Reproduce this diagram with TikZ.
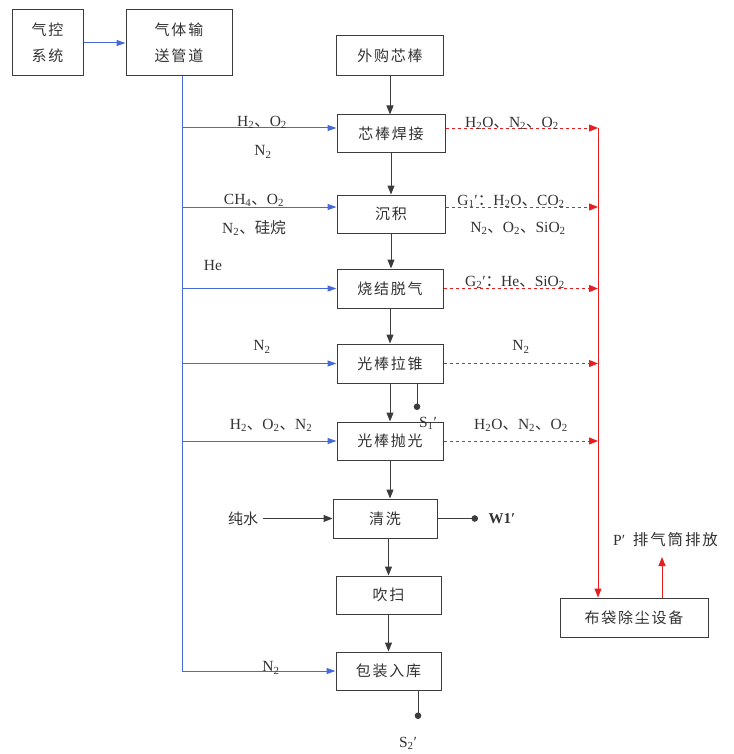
\documentclass[tikz,border=0pt]{standalone}
\usepackage{fontspec}
\setmainfont{Liberation Serif}
\newfontfamily\cjk[LetterSpace=12]{Noto Sans CJK SC}
\newfontfamily\cjkl{Noto Sans CJK SC}
\usetikzlibrary{arrows.meta}
\definecolor{boxc}{RGB}{60,60,60}
\definecolor{txt}{RGB}{50,50,50}
\definecolor{bluec}{RGB}{70,105,220}
\definecolor{redc}{RGB}{230,30,30}
\newcommand\dn{{\cjkl 、}}
\newcommand\cl{{\cjkl ：}}
\newcommand\chsub[1]{\textsubscript{#1}}
\begin{document}
\begin{tikzpicture}[x=1pt,y=-1pt,
  box/.style={draw=boxc, line width=1pt, inner sep=0pt, align=center,
    font=\cjk\fontsize{15}{26}\selectfont, text=txt},
  lab/.style={font=\fontsize{15.5}{17}\selectfont, text=txt, inner sep=0pt},
  blk/.style={draw=boxc, line width=1pt, -{Triangle[length=9pt,width=7pt]}},
  bln/.style={draw=bluec, line width=1pt},
  blu/.style={draw=bluec, line width=1pt, -{Triangle[length=9pt,width=6pt]}},
  rdash/.style={draw=redc, line width=0.9pt, dash pattern=on 3pt off 3pt, -{Triangle[length=9pt,width=7pt]}},
  rline/.style={draw=redc, line width=1pt, -{Triangle[length=9pt,width=7pt]}},
  dotend/.style={draw=boxc, line width=1pt, -{Circle[length=6.5pt]}}
]
\useasboundingbox (0,0) rectangle (733,754);
% boxes
\node[box, minimum width=71pt, minimum height=66pt] (qk) at (47.5,43) {气控\\系统};
\node[box, minimum width=106pt, minimum height=66pt] (gt) at (179,43) {气体输\\送管道};
\node[box, minimum width=107pt, minimum height=40pt] (wg) at (390,56) {外购芯棒};
\node[box, minimum width=108pt, minimum height=38pt] (hj) at (391,134) {芯棒焊接};
\node[box, minimum width=108pt, minimum height=38pt] (cj) at (391,214) {沉积};
\node[box, minimum width=106pt, minimum height=39pt] (sj) at (390,288.5) {烧结脱气};
\node[box, minimum width=106pt, minimum height=39pt] (lz) at (390,363.5) {光棒拉锥};
\node[box, minimum width=106pt, minimum height=38pt] (pg) at (390,441) {光棒抛光};
\node[box, minimum width=104pt, minimum height=39pt] (qx) at (385,518.5) {清洗};
\node[box, minimum width=105pt, minimum height=38pt] (cs) at (388.5,595) {吹扫};
\node[box, minimum width=105pt, minimum height=38pt] (bz) at (388.5,671) {包装入库};
\node[box, minimum width=148pt, minimum height=39pt] (bd) at (634,617.5) {布袋除尘设备};

% main flow
\draw[blk] (wg.south) -- (wg.south |- hj.north);
\draw[blk] (hj.south) -- (hj.south |- cj.north);
\draw[blk] (cj.south) -- (cj.south |- sj.north);
\draw[blk] (sj.south) -- (sj.south |- lz.north);
\draw[blk] (lz.south) -- (lz.south |- pg.north);
\draw[blk] (pg.south) -- (pg.south |- qx.north);
\draw[blk] (qx.south -| cs.center) -- (cs.north);
\draw[blk] (cs.south) -- (bz.north);

% gas control
\draw[blu] (qk.east) -- (qk.east -| gt.west);
\coordinate (trunk) at (182,76);
\coordinate (hjL) at ([yshift=6pt]hj.west);
\coordinate (cjL) at ([yshift=7pt]cj.west);
\coordinate (hjR) at ([yshift=6pt]hj.east);
\coordinate (cjR) at ([yshift=7pt]cj.east);
\draw[bln] (trunk) -- (trunk |- bz.west);
\draw[blu] (trunk |- hjL) -- (hjL);
\draw[blu] (trunk |- cjL) -- (cjL);
\draw[blu] (trunk |- sj.west) -- (sj.west);
\draw[blu] (trunk |- lz.west) -- (lz.west);
\draw[blu] (trunk |- pg.west) -- (pg.west);
\draw[blu] (trunk |- bz.west) -- (bz.west);

% red exhaust
\coordinate (rt) at (598,128);
\draw[rline] (rt) -- (rt |- bd.north);
\draw[rdash] (hjR) -- (hjR -| rt);
\draw[rdash] (cjR) -- (cjR -| rt);
\draw[rdash] (sj.east) -- (sj.east -| rt);
\draw[rdash] (lz.east) -- (lz.east -| rt);
\draw[rdash] (pg.east) -- (pg.east -| rt);
\coordinate (pt) at (662,557);
\draw[rline] (bd.north -| pt) -- (pt);

% left labels
\node[lab] (l1) at (262,122) {H\chsub{2}\dn O\chsub{2}};
\node[lab] (l2) at (263,152) {N\chsub{2}};
\node[lab] (l3) at (254,200) {CH\chsub{4}\dn O\chsub{2}};
\node[lab] (l4) at (254,228) {N\chsub{2}\dn{\cjkl 硅烷}};
\node[lab] (l5) at (213,265) {He};
\node[lab] (l6) at (262,347) {N\chsub{2}};
\node[lab] (l7) at (271,425) {H\chsub{2}\dn O\chsub{2}\dn N\chsub{2}};
\node[lab, font=\cjkl\fontsize{15}{16}\selectfont] (cw) at (243,518.5) {纯水};
\node[lab] (l8) at (271,668) {N\chsub{2}};
\draw[blk] ([xshift=5pt]cw.east) -- (qx.west);

% right labels
\node[lab] (r1) at (512,123) {H\chsub{2}O\dn N\chsub{2}\dn O\chsub{2}};
\node[lab] (r2) at (511,201) {G\chsub{1}′\cl H\chsub{2}O\dn CO\chsub{2}};
\node[lab] (r3) at (518,228) {N\chsub{2}\dn O\chsub{2}\dn SiO\chsub{2}};
\node[lab] (r4) at (515,282) {G\chsub{2}′\cl He\dn SiO\chsub{2}};
\node[lab] (r5) at (521,347) {N\chsub{2}};
\node[lab] (r6) at (521,425) {H\chsub{2}O\dn N\chsub{2}\dn O\chsub{2}};

% solid / water outputs
\coordinate (s1) at (417,410);
\draw[dotend] (lz.south -| s1) -- (s1);
\node[lab] (s1l) at (428,423) {S\chsub{1}′};
\coordinate (w1) at (478,519);
\draw[dotend] (qx.east) -- (w1 |- qx.east);
\node[lab, font=\bfseries\fontsize{15}{16}\selectfont] (w1l) at (502,519) {W1′};
\coordinate (s2) at (418,719);
\draw[dotend] (bz.south -| s2) -- (s2);
\node[lab] (s2l) at (408,743) {S\chsub{2}′};
\node[lab, anchor=west] (pl) at (613,540) {P′\ \ {\cjk 排气筒排放}};
\end{tikzpicture}
\end{document}
